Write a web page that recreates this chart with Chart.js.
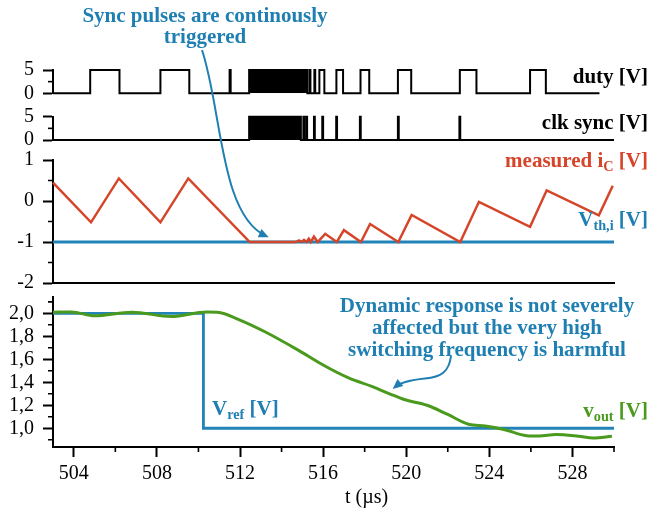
<!DOCTYPE html>
<html>
<head>
<meta charset="utf-8">
<script src="https://cdn.jsdelivr.net/npm/chart.js@4.4.1/dist/chart.umd.min.js"></script>
<style>
  body { margin: 0; background: #fff; }
  #page { position: relative; width: 652px; height: 511px; overflow: hidden; }
  #page canvas { position: absolute; left: 0; top: 0; }
  .lbl { position: absolute; font-family: "Liberation Serif", serif; font-weight: bold; font-size: 21px; line-height: 21px; white-space: nowrap; }
  .lbl sub { font-size: 0.68em; vertical-align: -0.3em; line-height: 0; }
  .right { right: 4px; text-align: right; }
  .note { color: #1f7fb2; text-align: center; }
  .blue { color: #1f7fb2; }
  .red { color: #d5452a; }
  .green { color: #4a9a1e; }
  .axis-title { position: absolute; font-family: "Liberation Serif", serif; font-size: 20px; line-height: 20px; }
</style>
</head>
<body>
<div id="page">
  <canvas id="dutyChart" width="652" height="511"></canvas>
  <canvas id="clkChart" width="652" height="511"></canvas>
  <canvas id="icChart" width="652" height="511"></canvas>
  <canvas id="voutChart" width="652" height="511"></canvas>

  <div class="lbl note" style="left:55px; top:5px; width:300px; line-height:20.5px;">Sync pulses are continously<br>triggered</div>
  <div class="lbl right" style="top:66px;">duty [V]</div>
  <div class="lbl right" style="top:112px;">clk sync [V]</div>
  <div class="lbl right red" style="top:150px;">measured i<sub>C</sub> [V]</div>
  <div class="lbl right blue" style="top:209px;">V<sub>th,i</sub> [V]</div>
  <div class="lbl note" style="left:337px; top:294px; width:300px; line-height:22px;">Dynamic response is not severely<br>affected but the very high<br>switching frequency is harmful</div>
  <div class="lbl blue" style="left:212px; top:398px;">V<sub>ref</sub> [V]</div>
  <div class="lbl right green" style="top:400px;">v<sub>out</sub> [V]</div>
  <div class="axis-title" style="left:345px; top:486px;">t (µs)</div>
</div>

<script>
// shared time axis (µs)
const tMin = 503, tMax = 530;
const timeTicks = [504, 508, 512, 516, 520, 524, 528];
const timeMinor = [506, 510, 514, 518, 522, 526, 530];

// duty command, stepped: each level holds until the next time
const dutyT = [503, 504.79, 506.2, 508.17, 509.56, 511.5, 511.55, 512.44, 515.24, 515.35, 515.39, 515.58, 515.62,
               515.82, 516.06, 516.64, 516.96, 517.8, 518.22, 519.6, 520.24, 522.58, 523.38, 525.96, 526.72, 529.3];
const dutyV = [0, 5, 0, 5, 0, 5, 0, 5, 0, 5, 0, 5, 0, 5, 0, 5, 0, 5, 0, 5, 0, 5, 0, 5, 0, 0];
// switching burst too dense to resolve, shown as a solid block
const dutyBurst = [512.44, 515.24];

// clock sync pulses
const clkT = [503, 512.44, 514.93, 515.05, 515.09, 515.19, 515.23, 515.56, 515.6, 515.96, 516.0,
              516.63, 516.67, 517.77, 517.81, 519.6, 519.64, 522.56, 522.6, 530];
const clkV = [0, 5, 0, 5, 0, 5, 0, 5, 0, 5, 0, 5, 0, 5, 0, 5, 0, 5, 0, 0];
const clkBurst = [512.44, 514.93];

// measured inductor current (as voltage)
const icT = [503.0, 504.83, 506.17, 508.17, 509.51, 512.47, 514.69, 514.84, 514.97, 515.08, 515.19, 515.31, 515.41,
             515.56, 515.74, 516.1, 516.66, 517.0, 517.82, 518.26, 519.62, 520.26, 522.6, 523.5, 525.96, 526.76, 529.27, 529.94];
const icV = [0.45, -0.52, 0.55, -0.52, 0.55, -1.0, -1.0, -0.96, -1.0, -0.95, -1.0, -0.92, -1.0,
             -0.87, -1.0, -0.8, -1.0, -0.71, -1.0, -0.56, -1.0, -0.34, -1.0, -0.02, -0.63, 0.26, -0.35, 0.37];
const vthLevel = -1;

// output voltage and reference
const voutT = [503.0, 503.9, 505.0, 506.8, 508.7, 510.4, 511.0, 511.8, 513.2, 514.8, 516.0, 517.2, 518.4,
               519.2, 519.9, 521.0, 522.0, 523.0, 523.8, 524.7, 525.8, 526.4, 527.2, 528.3, 529.0, 529.9];
const voutV = [2.01, 2.012, 1.978, 2.01, 1.972, 2.012, 2.008, 1.957, 1.84, 1.68, 1.55, 1.44, 1.36,
               1.30, 1.25, 1.20, 1.12, 1.035, 1.02, 0.99, 0.935, 0.932, 0.945, 0.93, 0.915, 0.93];
const vrefT = [503, 510.24, 530];
const vrefV = [2, 1, 1];

// y tick values
const pulseTicks = [0, 5], pulseMinor = [2.5];
const icTicks = [-2, -1, 0, 1], icMinor = [-1.5, -0.5, 0.5];
const voutTicks = [1.0, 1.2, 1.4, 1.6, 1.8, 2.0], voutMinor = [0.9, 1.1, 1.3, 1.5, 1.7, 1.9, 2.1];

const BLUE = '#2283b8', RED = '#d5452a', GREEN = '#4a9a1e', NOTE = '#1f7fb2';
const W = 652, H = 511;
const serif = { family: 'Liberation Serif', size: 20 };

function pts(ts, vs) { return ts.map((t, i) => ({ x: t, y: vs[i] })); }

// short ticks between the labelled ones
function minorTicks(xVals, yVals) {
  return {
    id: 'minorTicks',
    afterDraw(chart) {
      const { ctx, chartArea, scales } = chart;
      ctx.save();
      ctx.strokeStyle = '#000';
      ctx.lineWidth = 1.6;
      ctx.beginPath();
      yVals.forEach(v => {
        const y = scales.y.getPixelForValue(v);
        ctx.moveTo(chartArea.left - 5, y);
        ctx.lineTo(chartArea.left, y);
      });
      xVals.forEach(v => {
        const x = scales.x.getPixelForValue(v);
        ctx.moveTo(x, chartArea.bottom);
        ctx.lineTo(x, chartArea.bottom + 5);
      });
      ctx.stroke();
      ctx.restore();
    }
  };
}

function yScale(min, max, ticks, fmt) {
  return {
    min, max,
    afterFit: s => { s.width = 50; },
    afterBuildTicks: s => { s.ticks = ticks.map(v => ({ value: v })); },
    grid: { drawOnChartArea: false, tickLength: 10, tickWidth: 2, tickColor: '#000' },
    border: { display: true, color: '#000', width: 2 },
    ticks: { font: serif, color: '#000', padding: 9, autoSkip: false, callback: fmt }
  };
}

function panel(id, top, bottom, xScale, yOpts, datasets, minor) {
  return new Chart(document.getElementById(id), {
    type: 'line',
    data: { datasets },
    options: {
      responsive: false,
      animation: false,
      events: [],
      layout: { padding: { left: 3, right: 38, top: top, bottom: H - bottom - (xScale.boxHeight || 0) } },
      elements: { point: { radius: 0 } },
      plugins: { legend: { display: false }, tooltip: { enabled: false } },
      scales: { x: xScale, y: yOpts }
    },
    plugins: [minor]
  });
}

const hiddenX = { type: 'linear', min: tMin, max: tMax, display: false };

// duty
panel('dutyChart', 70, 93.3, hiddenX, yScale(0, 5, pulseTicks, v => v), [
  { data: pts(dutyT, dutyV), stepped: true, borderColor: '#000', borderWidth: 2, clip: false },
  { data: pts(dutyBurst, [5, 5]), borderWidth: 0, fill: 'origin', backgroundColor: '#000', clip: false }
], minorTicks([], pulseMinor));

// clk sync
panel('clkChart', 116.7, 140, hiddenX, yScale(0, 5, pulseTicks, v => v), [
  { data: pts(clkT, clkV), stepped: true, borderColor: '#000', borderWidth: 2, clip: false },
  { data: pts(clkBurst, [5, 5]), borderWidth: 0, fill: 'origin', backgroundColor: '#000', clip: false }
], minorTicks([], pulseMinor));

// current vs threshold
panel('icChart', 160, 283, {
  type: 'linear', min: tMin, max: tMax,
  afterFit: s => { s.height = 0; },
  grid: { display: false },
  ticks: { display: false },
  border: { display: true, color: '#000', width: 2 }
}, yScale(-2, 1, icTicks, v => String(v)), [
  { data: pts(icT, icV), borderColor: RED, borderWidth: 2.5, clip: false },
  { data: pts([tMin, tMax], [vthLevel, vthLevel]), borderColor: BLUE, borderWidth: 2.8 }
], minorTicks([], icMinor));

// output voltage, with the annotation arrows on top
const arrows = {
  id: 'arrows',
  afterDraw(chart) {
    const ctx = chart.ctx;
    ctx.save();
    ctx.strokeStyle = NOTE;
    ctx.fillStyle = NOTE;
    ctx.lineWidth = 2;
    drawArrow(ctx, [202, 50], [[222, 110, 220, 215, 266, 236]]);
    drawArrow(ctx, [451, 356], [[449, 372, 441, 377, 425, 378.5], [410, 380, 401, 382, 395, 387]]);
    ctx.restore();
  }
};

function drawArrow(ctx, start, segs) {
  ctx.beginPath();
  ctx.moveTo(start[0], start[1]);
  segs.forEach(s => ctx.bezierCurveTo(s[0], s[1], s[2], s[3], s[4], s[5]));
  ctx.stroke();
  const last = segs[segs.length - 1];
  const a = Math.atan2(last[5] - last[3], last[4] - last[2]);
  const tx = last[4] + 3 * Math.cos(a), ty = last[5] + 3 * Math.sin(a);
  ctx.beginPath();
  ctx.moveTo(tx, ty);
  ctx.lineTo(tx - 10 * Math.cos(a) + 4.5 * Math.sin(a), ty - 10 * Math.sin(a) - 4.5 * Math.cos(a));
  ctx.lineTo(tx - 10 * Math.cos(a) - 4.5 * Math.sin(a), ty - 10 * Math.sin(a) + 4.5 * Math.cos(a));
  ctx.closePath();
  ctx.fill();
}

const voutX = {
  type: 'linear', min: tMin, max: tMax,
  boxHeight: 64,
  afterFit: s => { s.height = 64; },
  afterBuildTicks: s => { s.ticks = timeTicks.map(v => ({ value: v })); },
  grid: { drawOnChartArea: false, tickLength: 10, tickWidth: 2, tickColor: '#000' },
  border: { display: true, color: '#000', width: 2 },
  ticks: { font: serif, color: '#000', padding: 5, maxRotation: 0, autoSkip: false }
};

const voutChart = panel('voutChart', 297, 447, voutX,
  yScale(0.837, 2.142, voutTicks, v => v.toFixed(1).replace('.', ',')), [
  { data: pts(voutT, voutV), borderColor: GREEN, borderWidth: 3, cubicInterpolationMode: 'monotone', clip: false },
  { data: pts(vrefT, vrefV), stepped: true, borderColor: BLUE, borderWidth: 2.8, clip: false }
], minorTicks(timeMinor, voutMinor));
voutChart.config.plugins.push(arrows);
voutChart.update();
</script>
</body>
</html>
